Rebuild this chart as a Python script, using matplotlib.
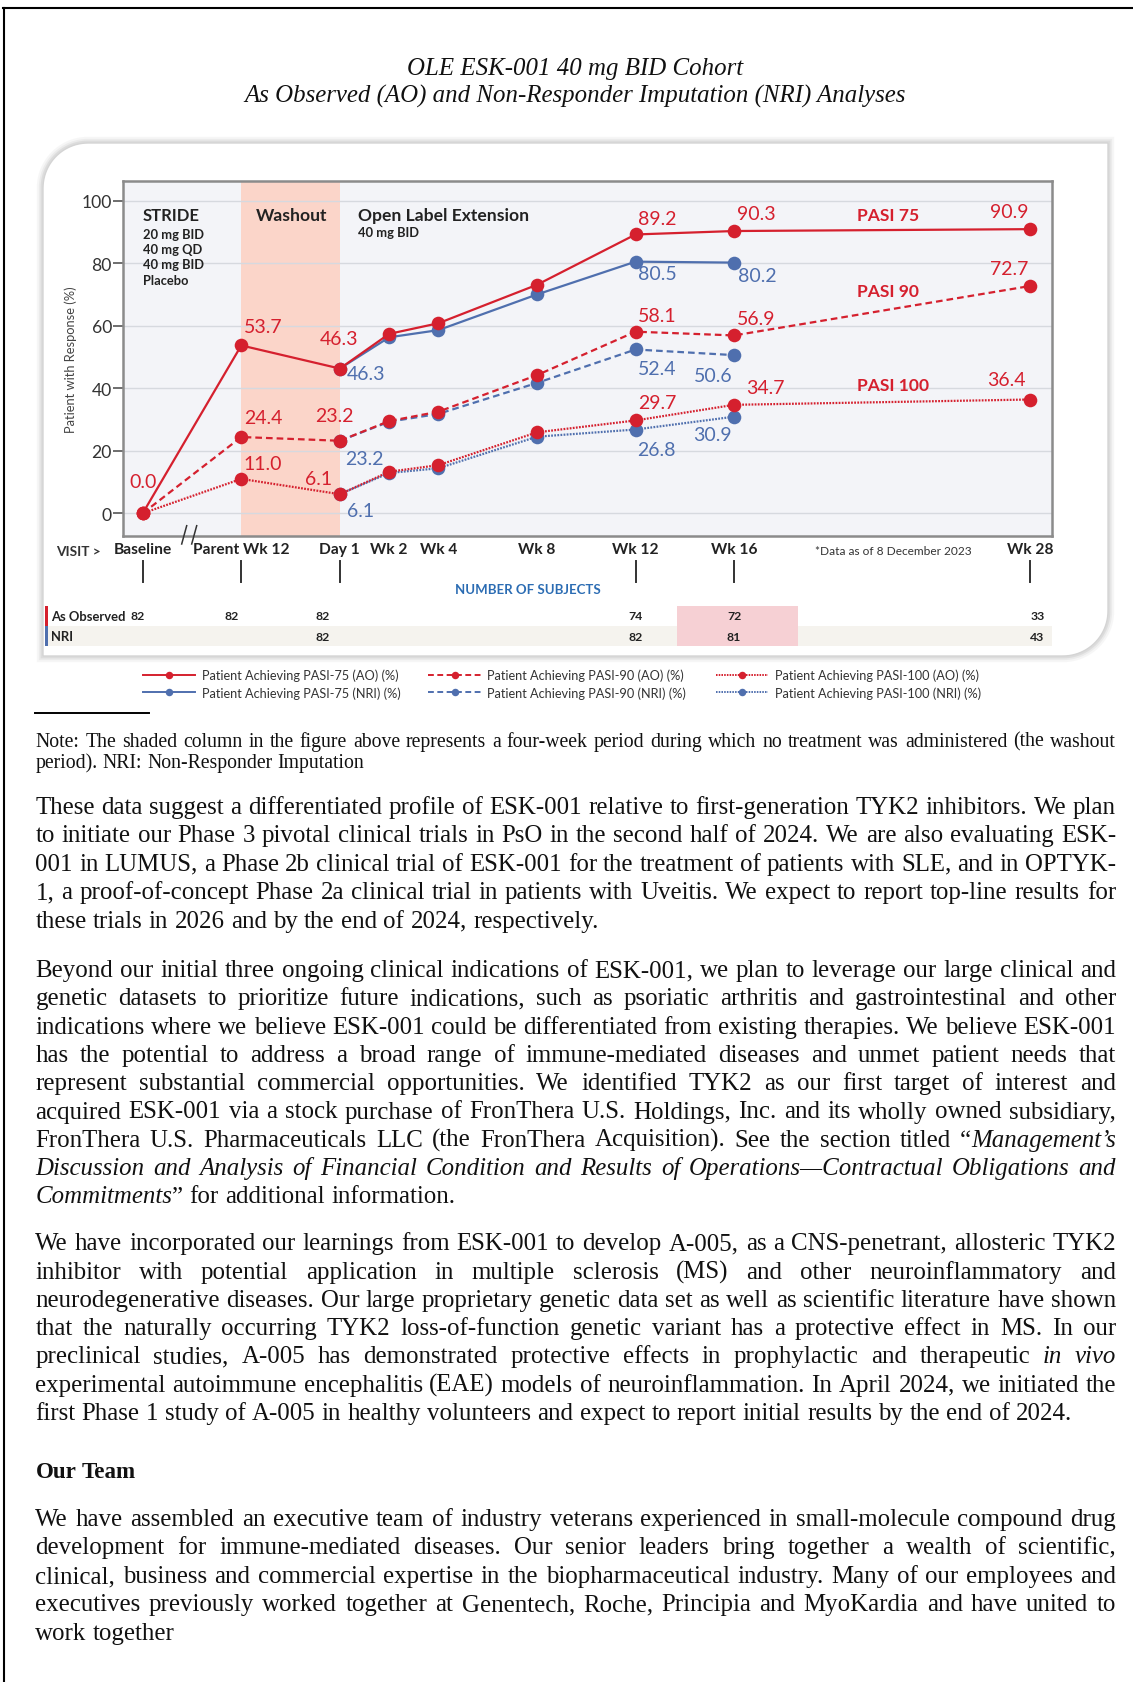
import matplotlib
matplotlib.use("Agg")
import matplotlib.pyplot as plt
import numpy as np
from matplotlib.font_manager import FontProperties
from matplotlib.lines import Line2D
from matplotlib.patches import PathPatch, Rectangle
from matplotlib.path import Path
from matplotlib.transforms import blended_transform_factory

W, H = 1133, 1683

# ---------------- chart data ----------------
visits = ["Baseline", "Parent Wk 12", "Day 1", "Wk 2", "Wk 4", "Wk 8", "Wk 12", "Wk 16", "Wk 28"]
visit_pos = [0, 2, 4, 5, 6, 8, 10, 12, 18]
tick_visits = ["Baseline", "Parent Wk 12", "Day 1", "Wk 12", "Wk 16", "Wk 28"]

nan = np.nan
pasi75_ao = [0.0, 53.7, 46.3, 57.4, 60.8, 73.1, 89.2, 90.3, 90.9]
pasi90_ao = [0.0, 24.4, 23.2, 29.5, 32.5, 44.2, 58.1, 56.9, 72.7]
pasi100_ao = [0.0, 11.0, 6.1, 13.3, 15.4, 25.9, 29.7, 34.7, 36.4]
pasi75_nri = [nan, nan, 46.3, 56.3, 58.6, 70.0, 80.5, 80.2, nan]
pasi90_nri = [nan, nan, 23.2, 29.3, 31.8, 41.7, 52.4, 50.6, nan]
pasi100_nri = [nan, nan, 6.1, 12.9, 14.4, 24.5, 26.8, 30.9, nan]

series_labels = [
    "Patient Achieving PASI-75 (AO) (%)",
    "Patient Achieving PASI-75 (NRI) (%)",
    "Patient Achieving PASI-90 (AO) (%)",
    "Patient Achieving PASI-90 (NRI) (%)",
    "Patient Achieving PASI-100 (AO) (%)",
    "Patient Achieving PASI-100 (NRI) (%)",
]

count_x = [-0.1, 1.8, 3.65, 10.0, 12.0, 18.15]
subjects_ao = [82, 82, 82, 74, 72, 33]
subjects_nri = [None, None, 82, 82, 81, 43]

title_lines = [
    "OLE ESK-001 40 mg BID Cohort",
    "As Observed (AO) and Non-Responder Imputation (NRI) Analyses",
]
note_lines = [
    "Note: The shaded column in the figure above represents a four-week period during which no treatment was administered (the washout",
    "period). NRI: Non-Responder Imputation",
]
para1 = [
    "These data suggest a differentiated profile of ESK-001 relative to first-generation TYK2 inhibitors. We plan",
    "to initiate our Phase 3 pivotal clinical trials in PsO in the second half of 2024. We are also evaluating ESK-",
    "001 in LUMUS, a Phase 2b clinical trial of ESK-001 for the treatment of patients with SLE, and in OPTYK-",
    "1, a proof-of-concept Phase 2a clinical trial in patients with Uveitis. We expect to report top-line results for",
    "these trials in 2026 and by the end of 2024, respectively.",
]
para2 = [
    "Beyond our initial three ongoing clinical indications of ESK-001, we plan to leverage our large clinical and",
    "genetic datasets to prioritize future indications, such as psoriatic arthritis and gastrointestinal and other",
    "indications where we believe ESK-001 could be differentiated from existing therapies. We believe ESK-001",
    "has the potential to address a broad range of immune-mediated diseases and unmet patient needs that",
    "represent substantial commercial opportunities. We identified TYK2 as our first target of interest and",
    "acquired ESK-001 via a stock purchase of FronThera U.S. Holdings, Inc. and its wholly owned subsidiary,",
    "FronThera U.S. Pharmaceuticals LLC (the FronThera Acquisition). See the section titled \u201c*Management\u2019s*",
    "*Discussion and Analysis of Financial Condition and Results of Operations\u2014Contractual Obligations and*",
    "*Commitments*\u201d for additional information.",
]
para3 = [
    "We have incorporated our learnings from ESK-001 to develop A-005, as a CNS-penetrant, allosteric TYK2",
    "inhibitor with potential application in multiple sclerosis (MS) and other neuroinflammatory and",
    "neurodegenerative diseases. Our large proprietary genetic data set as well as scientific literature have shown",
    "that the naturally occurring TYK2 loss-of-function genetic variant has a protective effect in MS. In our",
    "preclinical studies, A-005 has demonstrated protective effects in prophylactic and therapeutic *in vivo*",
    "experimental autoimmune encephalitis (EAE) models of neuroinflammation. In April 2024, we initiated the",
    "first Phase 1 study of A-005 in healthy volunteers and expect to report initial results by the end of 2024.",
]
heading = "Our Team"
para4 = [
    "We have assembled an executive team of industry veterans experienced in small-molecule compound drug",
    "development for immune-mediated diseases. Our senior leaders bring together a wealth of scientific,",
    "clinical, business and commercial expertise in the biopharmaceutical industry. Many of our employees and",
    "executives previously worked together at Genentech, Roche, Principia and MyoKardia and have united to",
    "work together",
]

# ---------------- styles ----------------
RED = "#d5202e"
BLUE = "#4f6fae"
SANS = "Lato"
SERIF = "Liberation Serif"


def fx(px):
    return px / W


def fy(py):
    return 1 - py / H


fig = plt.figure(figsize=(W / 100, H / 100), dpi=100)
fig.patch.set_facecolor("white")
renderer = fig.canvas.get_renderer()

# page frame (top and left rule)
fig.add_artist(Line2D([fx(3), 1], [fy(8.5), fy(8.5)], color="black", lw=1.5))
fig.add_artist(Line2D([fx(4), fx(4)], [fy(8.5), 0], color="black", lw=1.5))

# title
for text, base in zip(title_lines, [74.5, 102.5]):
    fig.text(fx(575), fy(base), text, ha="center", va="baseline",
             family=SERIF, style="italic", fontsize=17.9, color="#111")


# panel with two rounded corners and soft shadow
def panel_path(x0, y0, x1, y1, r):
    pts = []
    for a in np.linspace(np.pi, 1.5 * np.pi, 24):
        pts.append((x0 + r + r * np.cos(a), y0 + r + r * np.sin(a)))
    pts.append((x1, y0))
    for a in np.linspace(0, 0.5 * np.pi, 24):
        pts.append((x1 - r + r * np.cos(a), y1 - r + r * np.sin(a)))
    pts.append((x0, y1))
    pts.append(pts[0])
    pts = np.array([(fx(x), fy(y)) for x, y in pts])
    return Path(pts, closed=True)


for lw, alpha in [(9, 0.05), (6, 0.07), (3.5, 0.10)]:
    fig.add_artist(PathPatch(panel_path(43, 144, 1108, 657, 45), transform=fig.transFigure,
                             facecolor="none", edgecolor="#606060", lw=lw, alpha=alpha, zorder=0.5))
fig.add_artist(PathPatch(panel_path(43, 144, 1108, 657, 45), transform=fig.transFigure,
                         facecolor="white", edgecolor="#d4d4d4", lw=1.0, zorder=1))

# ---------------- chart axes ----------------
ax_left, ax_right, ax_top, ax_bottom = 123.3, 1052, 181.7, 536.7
ax = fig.add_axes([fx(ax_left), fy(ax_bottom), (ax_right - ax_left) / W, (ax_bottom - ax_top) / H])
ax.set_zorder(5)
ax.set_facecolor("#f3f4f8")
ax.set_xlim(-0.394, 18.45)
ax.set_ylim(-7.17, 106.4)

ax.axvspan(2, 4, color="#fbd5c9", lw=0, zorder=0.3)
ax.set_yticks([0, 20, 40, 60, 80, 100])
ax.yaxis.grid(True, color="#d6d9df", lw=1.0, zorder=0.5)
ax.set_axisbelow(True)
for spine in ax.spines.values():
    spine.set_color("#8b8b8b")
    spine.set_linewidth(1.8)

ax.tick_params(axis="y", length=7.2, width=1.2, color="#555555", pad=1,
               labelsize=12.6, labelcolor="#333333")
for lab in ax.get_yticklabels():
    lab.set_family(SANS)

ax.set_xticks(visit_pos, labels=visits)
ax.tick_params(axis="x", which="major", length=0, pad=4.2, labelsize=11.2, labelcolor="#222222")
for lab in ax.get_xticklabels():
    lab.set_family(SANS)
    lab.set_fontweight("bold")
major_pos = [visit_pos[visits.index(v)] for v in tick_visits]
ax.set_xticks(major_pos, minor=True)
ax.tick_params(axis="x", which="minor", length=3.6, width=1.3, color="#444444")

ax.set_ylabel("Patient with Response (%)", family=SANS, fontsize=9.3, color="#444444")
ax.yaxis.set_label_coords(-0.05, 0.5)

line_specs = [
    (pasi75_nri, BLUE, {"ls": "-"}),
    (pasi90_nri, BLUE, {"dashes": (3, 1.8)}),
    (pasi100_nri, BLUE, {"dashes": (0.8, 0.6)}),
    (pasi75_ao, RED, {"ls": "-"}),
    (pasi90_ao, RED, {"dashes": (3, 1.8)}),
    (pasi100_ao, RED, {"dashes": (0.8, 0.6)}),
]
for k, (values, color, style) in enumerate(line_specs):
    ax.plot(visit_pos, values, color=color, lw=1.6, marker="o", ms=9.8,
            markeredgewidth=0, zorder=3 + k // 3, clip_on=False, **style)

# value labels: index -> (dx px, dy px, ha)
label_offsets = [
    (pasi75_ao, RED, {0: (0, 32, "center"), 1: (3, 19, "left"), 2: (-1, 29.6, "center"),
                      6: (2.6, 16, "left"), 7: (3, 18, "left"), 8: (-1, 17.4, "right")}),
    (pasi90_ao, RED, {1: (2.6, 19.7, "left"), 2: (-5, 25, "center"), 6: (2.6, 16, "left"),
                      7: (3, 17.4, "left"), 8: (-1, 17.7, "right")}),
    (pasi100_ao, RED, {1: (2.6, 15, "left"), 2: (-7.6, 16, "right"), 6: (2.6, 18, "left"),
                       7: (12.4, 17.5, "left"), 8: (-4, 19.8, "right")}),
    (pasi75_nri, BLUE, {2: (7.4, -5.4, "left"), 6: (2.6, -12.3, "left"), 7: (4, -13, "left")}),
    (pasi90_nri, BLUE, {2: (5.7, -18, "left"), 6: (2.6, -18.8, "left"), 7: (-2, -20, "right")}),
    (pasi100_nri, BLUE, {2: (7.4, -16.5, "left"), 6: (1.6, -19.5, "left"), 7: (-2.6, -18, "right")}),
]
for values, color, offsets in label_offsets:
    for idx, (dx, dy, ha) in offsets.items():
        ax.annotate(f"{values[idx]:.1f}", (visit_pos[idx], values[idx]), xytext=(dx, dy),
                    textcoords="offset pixels", ha=ha, va="center", color=color,
                    family=SANS, fontsize=14, zorder=6)

# in-plot annotations
ax.text(0.0, 95.4, "STRIDE", family=SANS, weight="bold", fontsize=12, color="#222222", va="center")
for k, txt in enumerate(["20 mg BID", "40 mg QD", "40 mg BID", "Placebo"]):
    ax.text(0.0, 89.5 - 4.95 * k, txt, family=SANS, weight="bold", fontsize=9.3,
            color="#222222", va="center")
ax.text(3.02, 95.4, "Washout", family=SANS, weight="bold", fontsize=12.6, color="#222222",
        va="center", ha="center")
ax.text(4.37, 95.4, "Open Label Extension", family=SANS, weight="bold", fontsize=12.6,
        color="#222222", va="center")
ax.text(4.37, 89.9, "40 mg BID", family=SANS, weight="bold", fontsize=9.3, color="#222222", va="center")
for txt, yv in [("PASI 75", 95.4), ("PASI 90", 71.2), ("PASI 100", 41.0)]:
    ax.text(14.49, yv, txt, family=SANS, weight="bold", fontsize=12.6, color=RED, va="center")

# ---------------- below the axis ----------------
xfig = blended_transform_factory(ax.transData, fig.transFigure)
for p in major_pos:
    ax.plot([p, p], [fy(561.7), fy(583.3)], transform=xfig, clip_on=False, color="#333333", lw=1.4)

fig.text(fx(56), fy(551.7), "VISIT >", family=SANS, weight="bold", fontsize=9.8,
         color="#333333", va="center", zorder=6)
fig.text(fx(815), fy(551.7), "*Data as of 8 December 2023", family=SANS, fontsize=8.6,
         color="#333333", va="center", zorder=6)
for x0 in [181.7, 191.7]:
    fig.add_artist(Line2D([fx(x0), fx(x0 + 5)], [fy(545), fy(526.7)], color="#333333", lw=1.1, zorder=6))

fig.text(fx(528), fy(590), "NUMBER OF SUBJECTS", family=SANS, weight="bold", fontsize=9.5,
         color="#2b6cb3", ha="center", va="center", zorder=6)

# subject table
fig.add_artist(Rectangle((fx(45), fy(647.3)), fx(1052) - fx(45), fy(627.3) - fy(647.3),
                         transform=fig.transFigure, facecolor="#f5f3ee", lw=0, zorder=2))
ax.add_patch(Rectangle((10.85, fy(647.3)), 2.45, fy(606.7) - fy(647.3), transform=xfig,
                       facecolor="#f6d0d4", lw=0, clip_on=False, zorder=1))
fig.add_artist(Rectangle((fx(45), fy(627.3)), fx(2.5), fy(606.7) - fy(627.3),
                         transform=fig.transFigure, facecolor=RED, lw=0, zorder=2))
fig.add_artist(Rectangle((fx(45), fy(647.3)), fx(2.5), fy(627.3) - fy(647.3),
                         transform=fig.transFigure, facecolor=BLUE, lw=0, zorder=2))
fig.text(fx(51), fy(616.7), "As Observed", family=SANS, weight="bold", fontsize=9.4,
         color="#222222", va="center", zorder=6)
fig.text(fx(51), fy(637.3), "NRI", family=SANS, weight="bold", fontsize=9.4,
         color="#222222", va="center", zorder=6)
for xc, n_ao, n_nri in zip(count_x, subjects_ao, subjects_nri):
    ax.text(xc, fy(616.7), str(n_ao), transform=xfig, family=SANS, weight="bold", fontsize=8.8,
            color="#222222", ha="center", va="center", clip_on=False)
    if n_nri is not None:
        ax.text(xc, fy(637.3), str(n_nri), transform=xfig, family=SANS, weight="bold", fontsize=8.8,
                color="#222222", ha="center", va="center", clip_on=False)

# legend (drawn by hand to keep the column layout)
legend_cols = [(142.7, 195, 201.7), (428, 481.8, 487), (716, 768.3, 775)]
legend_rows = [676, 693.3]
for k, (values, color, style) in enumerate(
        [line_specs[3], line_specs[0], line_specs[4], line_specs[1], line_specs[5], line_specs[2]]):
    x0, x1, xt = legend_cols[k // 2]
    yy = legend_rows[k % 2]
    fig.add_artist(Line2D([fx(x0), fx(x1)], [fy(yy), fy(yy)], color=color, lw=1.4, **style))
    fig.add_artist(Line2D([fx((x0 + x1) / 2)], [fy(yy)], color=color, marker="o", ms=5.4,
                          markeredgewidth=0, ls="none"))
    fig.text(fx(xt), fy(yy), series_labels[k], family=SANS, fontsize=9.2, color="#333333", va="center")

# ---------------- body text ----------------
fig.add_artist(Line2D([fx(35), fx(149)], [fy(714.3), fy(714.3)], color="black", lw=1.4))


def measure(s, fp):
    return renderer.get_text_width_height_descent(s, fp, ismath=False)[0]


def parse(line):
    words = [[]]
    for k, piece in enumerate(line.split("*")):
        style = "italic" if k % 2 else "normal"
        for j, part in enumerate(piece.split(" ")):
            if j > 0:
                words.append([])
            if part:
                words[-1].append((part, style))
    return [w for w in words if w]


def draw_line(line, baseline, size, justify, weight="normal", x0=35.4, x1=1116):
    words = parse(line)
    fps = {st: FontProperties(family=SERIF, style=st, weight=weight, size=size)
           for st in ("normal", "italic")}
    widths = [sum(measure(seg, fps[st]) for seg, st in word) for word in words]
    if justify and len(words) > 1:
        gap = (x1 - x0 - sum(widths)) / (len(words) - 1)
    else:
        gap = measure("a a", fps["normal"]) - measure("aa", fps["normal"])
    x = x0
    for word, w in zip(words, widths):
        xx = x
        for seg, st in word:
            fig.text(fx(xx), fy(baseline), seg, fontproperties=fps[st], va="baseline",
                     ha="left", color="#111111")
            xx += measure(seg, fps[st])
        x += w + gap


def draw_paragraph(lines, first_baseline, size, spacing):
    for k, line in enumerate(lines):
        draw_line(line, first_baseline + k * spacing, size, justify=k < len(lines) - 1)


draw_paragraph(note_lines, 746.7, 14.2, 21)
draw_paragraph(para1, 814, 17.9, 28.4)
draw_paragraph(para2, 977, 17.9, 28.3)
draw_paragraph(para3, 1250.5, 17.9, 28.25)
draw_line(heading, 1478.3, 16.6, False, weight="bold")
draw_paragraph(para4, 1526, 17.9, 28.5)

fig.savefig("out.png", dpi=100)
